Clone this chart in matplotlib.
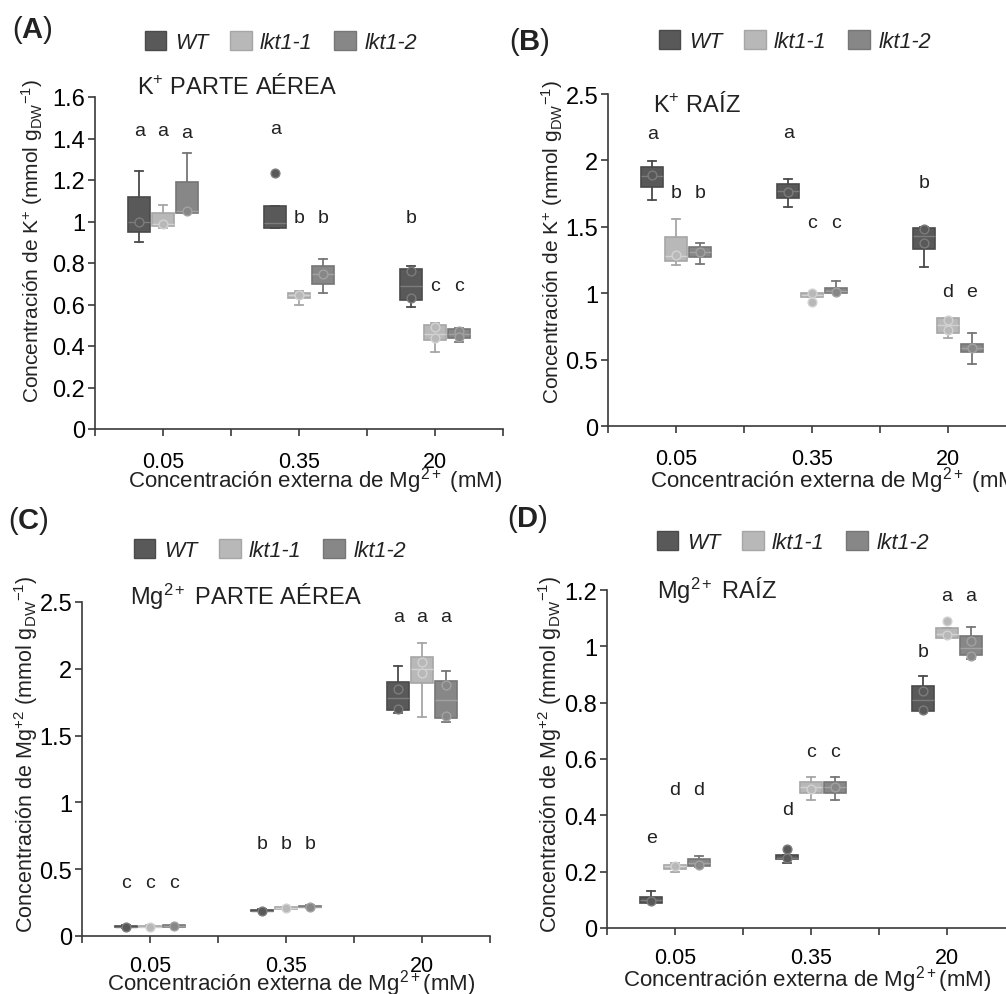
import matplotlib
matplotlib.use('Agg')
import matplotlib.pyplot as plt
from matplotlib.patches import Patch
import numpy as np

plt.rcParams['font.family'] = ['Liberation Sans', 'DejaVu Sans']
plt.rcParams['mathtext.fontset'] = 'custom'
plt.rcParams['mathtext.rm'] = 'Liberation Sans'
plt.rcParams['mathtext.it'] = 'Liberation Sans:italic'
plt.rcParams['mathtext.bf'] = 'Liberation Sans:bold'
plt.rcParams['text.color'] = '#222222'

grupos = ['0.05', '0.35', '20']
genotipos = ['WT', 'lkt1-1', 'lkt1-2']

# each box: [whislo, q1, median, q3, whishi], one per Mg group
# (A) K+ parte aerea
a_wt = [[0.90, 0.95, 1.00, 1.12, 1.245], [0.97, 0.97, 0.995, 1.075, 1.075], [0.59, 0.62, 0.69, 0.77, 0.785]]
a_k1 = [[0.97, 0.98, 0.99, 1.04, 1.08], [0.60, 0.63, 0.645, 0.655, 0.665], [0.37, 0.43, 0.46, 0.50, 0.51]]
a_k2 = [[1.04, 1.04, 1.05, 1.19, 1.33], [0.655, 0.70, 0.745, 0.785, 0.82], [0.42, 0.44, 0.46, 0.48, 0.485]]
a_pts_wt = [[1.0], [1.235], [0.76, 0.63]]
a_pts_k1 = [[0.99], [0.645], [0.49, 0.44]]
a_pts_k2 = [[1.05], [0.745], [0.47, 0.445]]
a_let = [['a', 'a', 'b'], ['a', 'b', 'c'], ['a', 'b', 'c']]
a_let_y = [[1.44, 1.45, 1.02], [1.44, 1.02, 0.69], [1.43, 1.02, 0.69]]

# (B) K+ raiz
b_wt = [[1.70, 1.80, 1.88, 1.95, 1.995], [1.65, 1.72, 1.77, 1.82, 1.86], [1.20, 1.33, 1.43, 1.49, 1.50]]
b_k1 = [[1.215, 1.24, 1.28, 1.42, 1.56], [0.97, 0.97, 0.99, 1.0, 1.0], [0.66, 0.70, 0.76, 0.81, 0.81]]
b_k2 = [[1.22, 1.27, 1.31, 1.35, 1.38], [1.0, 1.0, 1.02, 1.04, 1.09], [0.47, 0.56, 0.59, 0.62, 0.70]]
b_pts_wt = [[1.89], [1.76], [1.48, 1.38]]
b_pts_k1 = [[1.29], [1.0, 0.93], [0.80, 0.72]]
b_pts_k2 = [[1.31], [1.01], [0.59]]
b_let = [['a', 'a', 'b'], ['b', 'c', 'd'], ['b', 'c', 'e']]
b_let_y = [[2.2, 2.21, 1.83], [1.76, 1.53, 1.01], [1.76, 1.53, 1.01]]

# (C) Mg2+ parte aerea
c_wt = [[0.06, 0.065, 0.07, 0.075, 0.08], [0.185, 0.19, 0.19, 0.195, 0.20], [1.67, 1.69, 1.78, 1.90, 2.02]]
c_k1 = [[0.065, 0.07, 0.07, 0.075, 0.08], [0.20, 0.205, 0.21, 0.215, 0.22], [1.64, 1.89, 2.0, 2.09, 2.19]]
c_k2 = [[0.07, 0.07, 0.075, 0.08, 0.08], [0.21, 0.215, 0.22, 0.225, 0.23], [1.60, 1.63, 1.77, 1.91, 1.98]]
c_pts_wt = [[0.065], [0.19], [1.85, 1.70]]
c_pts_k1 = [[0.07], [0.21], [2.05, 1.97]]
c_pts_k2 = [[0.075], [0.22], [1.88, 1.65]]
c_let = [['c', 'b', 'a'], ['c', 'b', 'a'], ['c', 'b', 'a']]
c_let_y = [[0.40, 0.69, 2.39], [0.40, 0.69, 2.39], [0.40, 0.69, 2.39]]

# (D) Mg2+ raiz
d_wt = [[0.09, 0.09, 0.10, 0.11, 0.13], [0.23, 0.245, 0.25, 0.26, 0.26], [0.77, 0.77, 0.81, 0.86, 0.895]]
d_k1 = [[0.20, 0.21, 0.22, 0.225, 0.23], [0.455, 0.48, 0.50, 0.52, 0.535], [1.03, 1.03, 1.045, 1.065, 1.065]]
d_k2 = [[0.215, 0.22, 0.23, 0.245, 0.255], [0.455, 0.48, 0.50, 0.52, 0.535], [0.955, 0.97, 0.995, 1.035, 1.07]]
d_pts_wt = [[0.095], [0.28, 0.25], [0.84, 0.775]]
d_pts_k1 = [[0.22], [0.495], [1.09, 1.04]]
d_pts_k2 = [[0.225], [0.50], [1.02, 0.965]]
d_let = [['e', 'd', 'b'], ['d', 'c', 'a'], ['d', 'c', 'a']]
d_let_y = [[0.32, 0.42, 0.98], [0.49, 0.625, 1.18], [0.49, 0.625, 1.18]]

fills = ['#595959', '#b8b8b8', '#878787']
edges = ['#4a4a4a', '#a6a6a6', '#767676']
medians = ['#7c7c7c', '#d2d2d2', '#a2a2a2']
offsets = [-0.35, 0.0, 0.35]
AXC = '#3a3a3a'

W, H = 1006, 995
fig = plt.figure(figsize=(W / 100, H / 100), dpi=100)


def px_rect(x0, y_top, x1, y_bot):
    return [x0 / W, 1 - y_bot / H, (x1 - x0) / W, (y_bot - y_top) / H]


def draw_panel(rect, cajas, puntos, letras, letras_y, ymax, ystep, xpad=11):
    ax = fig.add_axes(rect)
    for g in range(3):
        pos = [1 + 2 * i + offsets[g] for i in range(3)]
        stats = [dict(whislo=b[0], q1=b[1], med=b[2], q3=b[3], whishi=b[4], fliers=[])
                 for b in cajas[g]]
        ax.bxp(stats, positions=pos, widths=0.32, capwidths=0.12, patch_artist=True,
               showfliers=False, manage_ticks=False,
               boxprops=dict(facecolor=fills[g], edgecolor=edges[g], linewidth=1.2),
               medianprops=dict(color=medians[g], linewidth=1.0),
               whiskerprops=dict(color=edges[g], linewidth=1.3),
               capprops=dict(color=edges[g], linewidth=1.3))
        for i in range(3):
            ys = puntos[g][i]
            ax.scatter([pos[i]] * len(ys), ys, s=40, color=fills[g],
                       edgecolors=medians[g], linewidths=1.0, zorder=4)
            ax.text(pos[i], letras_y[g][i], letras[g][i], ha='center', va='center',
                    fontsize=14)
    ax.set_xlim(0, 6)
    ax.set_ylim(0, ymax)
    ax.set_xticks(range(7))
    ax.set_xticklabels(['', grupos[0], '', grupos[1], '', grupos[2], ''])
    yt = np.round(np.arange(0, ymax + ystep / 2, ystep), 2)
    ax.set_yticks(yt)
    ax.set_yticklabels([f'{v:g}' for v in yt])
    for s in ['top', 'right']:
        ax.spines[s].set_visible(False)
    for s in ['left', 'bottom']:
        ax.spines[s].set_color(AXC)
        ax.spines[s].set_linewidth(1.2)
    ax.tick_params(axis='x', direction='out', length=5, width=1.2, color=AXC,
                   labelsize=15.5, pad=xpad)
    ax.tick_params(axis='y', direction='out', length=5, width=1.2, color=AXC,
                   labelsize=17, pad=2)
    ax.patch.set_alpha(0)
    return ax


def legend_at(x, y):
    handles = [Patch(facecolor=fills[i], edgecolor=edges[i]) for i in range(3)]
    fig.legend(handles, genotipos, loc='center', bbox_to_anchor=(x / W, 1 - y / H),
               ncol=3, frameon=False, prop={'style': 'italic', 'size': 15.5},
               handlelength=1.0, handleheight=1.0, handletextpad=0.4,
               columnspacing=1.0, borderpad=0)


def ftext(x, y, s, **kw):
    fig.text(x / W, 1 - y / H, s, **kw)


draw_panel(px_rect(95, 98, 503, 430), [a_wt, a_k1, a_k2], [a_pts_wt, a_pts_k1, a_pts_k2],
           a_let, a_let_y, 1.6, 0.2)
draw_panel(px_rect(608, 95, 1016, 427), [b_wt, b_k1, b_k2], [b_pts_wt, b_pts_k1, b_pts_k2],
           b_let, b_let_y, 2.5, 0.5)
draw_panel(px_rect(82, 603, 490, 937), [c_wt, c_k1, c_k2], [c_pts_wt, c_pts_k1, c_pts_k2],
           c_let, c_let_y, 2.5, 0.5, xpad=9)
draw_panel(px_rect(607, 591, 1015, 929), [d_wt, d_k1, d_k2], [d_pts_wt, d_pts_k1, d_pts_k2],
           d_let, d_let_y, 1.2, 0.2, xpad=9)

legend_at(281, 43)
legend_at(795, 42)
legend_at(270, 551)
legend_at(793, 543)

for x, y, s in [(12, 30, 'A'), (509, 42, 'B'), (8, 521, 'C'), (507, 519, 'D')]:
    ftext(x, y, r'($\mathbf{' + s + '}$)', fontsize=21, ha='left', va='center')

ftext(137, 87, r'K$^{+}$ PARTE AÉREA', fontsize=17, va='center')
ftext(653, 105, r'K$^{+}$ RAÍZ', fontsize=17, va='center')
ftext(130, 597, r'Mg$^{2+}$ PARTE AÉREA', fontsize=17, va='center')
ftext(657, 591, r'Mg$^{2+}$ RAÍZ', fontsize=17, va='center')

ylab_k = r'Concentración de K$^{+}$ (mmol ${\rm g_{DW}}^{-1}$)'
ylab_mg = r'Concentración de Mg$^{+2}$ (mmol ${\rm g_{DW}}^{-1}$)'
ftext(32, 241, ylab_k, fontsize=15, rotation=90, ha='center', va='center')
ftext(552, 242, ylab_k, fontsize=15, rotation=90, ha='center', va='center')
ftext(26, 754, ylab_mg, fontsize=15.5, rotation=90, ha='center', va='center')
ftext(550, 754, ylab_mg, fontsize=15.5, rotation=90, ha='center', va='center')

ftext(315, 487, r'Concentración externa de Mg$^{2+}$ (mM)', fontsize=16, ha='center', va='baseline')
ftext(650, 487, r'Concentración externa de Mg$^{2+}$ (mM)', fontsize=16, ha='left', va='baseline')
ftext(291, 991, r'Concentración externa de Mg$^{2+}$(mM)', fontsize=16, ha='center', va='baseline')
ftext(807, 987, r'Concentración externa de Mg$^{2+}$(mM)', fontsize=16, ha='center', va='baseline')

fig.savefig('out.png', dpi=100)
plt.close(fig)
